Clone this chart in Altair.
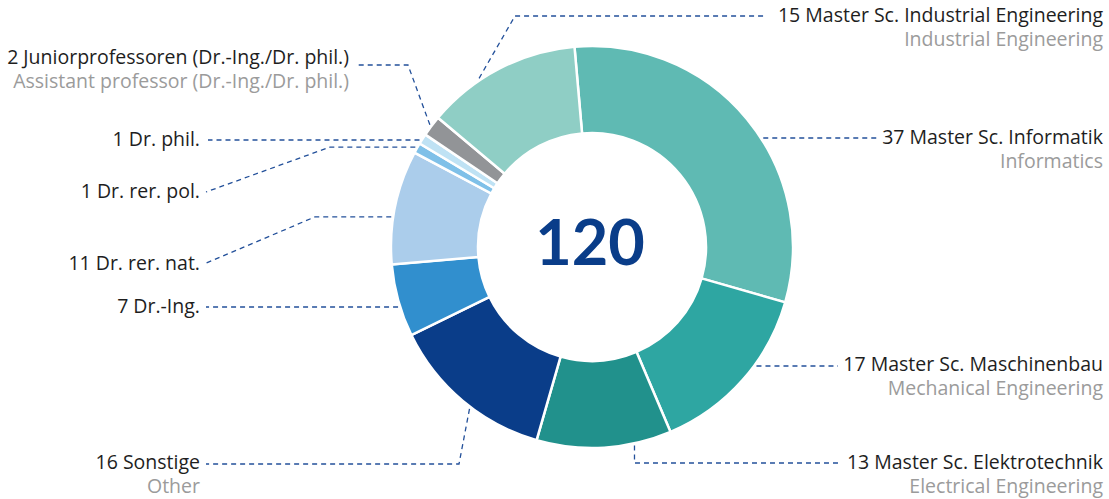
import math
import altair as alt
import pandas as pd

# ---------------- data ----------------
categories = [
    "Master Sc. Informatik",
    "Master Sc. Maschinenbau",
    "Master Sc. Elektrotechnik",
    "Sonstige",
    "Dr.-Ing.",
    "Dr. rer. nat.",
    "Dr. rer. pol.",
    "Dr. phil.",
    "Juniorprofessoren (Dr.-Ing./Dr. phil.)",
    "Master Sc. Industrial Engineering",
]
values = [37, 17, 13, 16, 7, 11, 1, 1, 2, 15]
english = [
    "Informatics",
    "Mechanical Engineering",
    "Electrical Engineering",
    "Other",
    "",
    "",
    "",
    "",
    "Assistant professor (Dr.-Ing./Dr. phil.)",
    "Industrial Engineering",
]
colors = ["#5fbab3", "#2ea6a2", "#21918c", "#0a3d89", "#318fce",
          "#abcdeb", "#7fc0e8", "#bfe2f4", "#929497", "#8fcec5"]

# ---------------- layout ----------------
W, H = 1109, 499
CX, CY = 592, 247
R_OUT, R_IN = 201, 114
START_DEG = -5
FONT = "Open Sans"
FONT_SIZE = 19.5
LINE_COLOR = "#23509a"

LABEL_Y = [138, 365, 463, 463, 307, 264, 192, 140, 58, 16]
LINE_DY = [0, 1, 0, 1, 0, 0, 0, 0, 7, 0]
TEXT_X = [1103, 1103, 1103, 200, 200, 200, 200, 200, 349, 1103]
LINE_END_X = [877, 838, 838, 206, 206, 204, 206, 208, 356, 766]
LEADER = ["straight", "straight", "vertical", "label", "straight",
          "anchor", "anchor", "straight", "label", "label"]
ELBOW_X = [None, None, None, 459, None, 315, 330, None, 408, 515]
ANCHOR_FRAC = [0.5, 0.5, 0.28, 0.44, 0.5, 0.41, 0.5, 0.5, 0.5, 0.36]
SECOND_DY = 24

total = sum(values)
start = math.radians(START_DEG)

slices = pd.DataFrame({
    "cat": categories,
    "value": values,
    "order": list(range(len(values))),
})

# leader lines computed from slice angles
line_rows = []
label_rows = []
cum = 0
for i, v in enumerate(values):
    a0 = start + cum / total * 2 * math.pi
    a1 = a0 + v / total * 2 * math.pi
    cum += v
    r = R_OUT + 2
    ly = LABEL_Y[i] + LINE_DY[i]
    side = 1 if TEXT_X[i] > CX else -1
    if LEADER[i] == "straight":
        dy = CY - ly
        dx = math.sqrt(max(r * r - dy * dy, 0))
        pts = [(CX + side * dx, ly), (LINE_END_X[i], ly)]
    else:
        a = a0 + ANCHOR_FRAC[i] * (a1 - a0)
        ax = CX + r * math.sin(a)
        ay = CY - r * math.cos(a)
        if LEADER[i] == "vertical":
            pts = [(ax, ay), (ax, ly), (LINE_END_X[i], ly)]
        elif LEADER[i] == "label":
            pts = [(ax, ay), (ELBOW_X[i], ly), (LINE_END_X[i], ly)]
        else:
            pts = [(ax, ay), (ELBOW_X[i], ay), (LINE_END_X[i], ly)]
    for k, (px, py) in enumerate(pts):
        line_rows.append({"id": i, "k": k, "px": px, "py": py})
    label_rows.append({"tx": TEXT_X[i], "ty": LABEL_Y[i],
                       "main": f"{v} {categories[i]}",
                       "sub": english[i], "ty2": LABEL_Y[i] + SECOND_DY})

lines = pd.DataFrame(line_rows)
labels = pd.DataFrame(label_rows)

xs = alt.Scale(domain=[0, W], range=[0, W])
ys = alt.Scale(domain=[0, H], range=[0, H])

donut = alt.Chart(slices).mark_arc(
    radius=R_OUT, radius2=R_IN, stroke="white", strokeWidth=2.5
).encode(
    theta=alt.Theta("value:Q", stack=True,
                    scale=alt.Scale(range=[start, start + 2 * math.pi])),
    color=alt.Color("cat:N", scale=alt.Scale(domain=categories, range=colors),
                    legend=None),
    order=alt.Order("order:Q"),
    x=alt.X(datum=CX, type="quantitative", scale=xs, axis=None),
    y=alt.Y(datum=CY, type="quantitative", scale=ys, axis=None),
)

leaders = alt.Chart(lines).mark_line(
    color=LINE_COLOR, strokeWidth=1.3, strokeDash=[5, 4]
).encode(
    x=alt.X("px:Q", scale=xs, axis=None),
    y=alt.Y("py:Q", scale=ys, axis=None),
    detail="id:N",
    order="k:Q",
)

main_text = alt.Chart(labels).mark_text(
    align="right", baseline="middle", font=FONT, fontSize=FONT_SIZE,
    color="#1e1e1e"
).encode(
    x=alt.X("tx:Q", scale=xs, axis=None),
    y=alt.Y("ty:Q", scale=ys, axis=None),
    text="main:N",
)

sub_text = alt.Chart(labels).mark_text(
    align="right", baseline="middle", font=FONT, fontSize=FONT_SIZE,
    color="#9b9b9b"
).encode(
    x=alt.X("tx:Q", scale=xs, axis=None),
    y=alt.Y("ty2:Q", scale=ys, axis=None),
    text="sub:N",
)

center = alt.Chart(pd.DataFrame({"t": [str(total)]})).mark_text(
    align="center", baseline="middle", font="Lato", fontSize=63,
    fontWeight="bold", color="#0a3d89", dx=-2, dy=-1
).encode(
    x=alt.X(datum=CX, type="quantitative", scale=xs, axis=None),
    y=alt.Y(datum=CY, type="quantitative", scale=ys, axis=None),
    text="t:N",
)

chart = alt.layer(donut, leaders, main_text, sub_text, center).properties(
    width=W, height=H, padding=0, autosize="none"
).configure_view(stroke=None)

chart.save("out.html", embed_options={"renderer": "svg", "actions": False})
